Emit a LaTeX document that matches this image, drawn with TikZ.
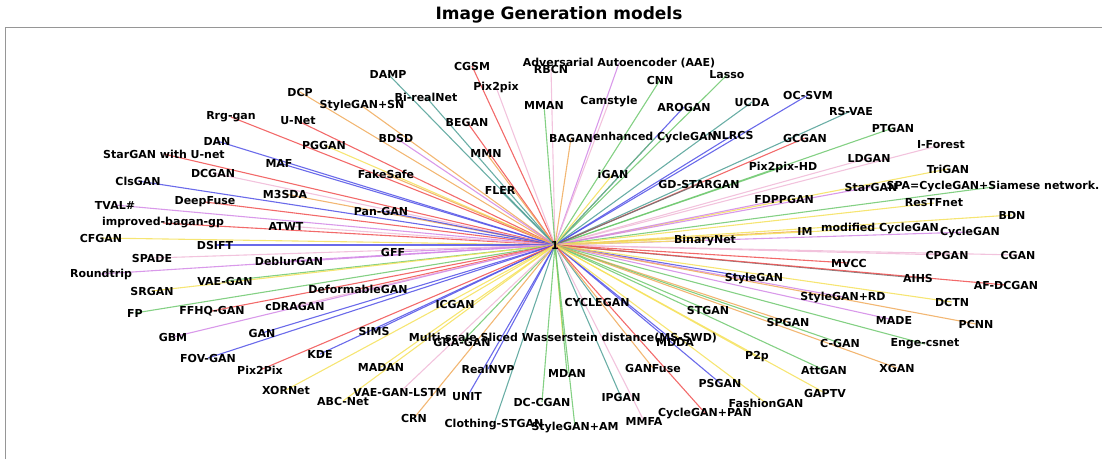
\documentclass[tikz,border=0pt]{standalone}
\usepackage{fontspec}
\setmainfont{DejaVu Sans}
\pgfdeclarelayer{bg}
\pgfsetlayers{bg,main}
\definecolor{cred}{RGB}{240,80,80}
\definecolor{cblue}{RGB}{80,80,230}
\definecolor{cgreen}{RGB}{110,200,110}
\definecolor{cyellow}{RGB}{245,225,90}
\definecolor{cpink}{RGB}{240,185,215}
\definecolor{corange}{RGB}{240,170,90}
\definecolor{cteal}{RGB}{80,160,150}
\definecolor{cviolet}{RGB}{210,135,230}
\definecolor{cgrey}{RGB}{110,110,110}
\definecolor{frame}{RGB}{150,150,150}
\tikzset{
  lab/.style={inner sep=0pt, font=\fontsize{11}{13}\selectfont\bfseries, text=black},
  spoke/.style={line width=1.1pt, draw opacity=0.85},
  titlestyle/.style={inner sep=0pt, font=\fontsize{17}{20}\selectfont\bfseries},
}
\begin{document}
\begin{tikzpicture}[x=1pt,y=-1pt]
\useasboundingbox (0,0) rectangle (1102,459);
\draw[frame, line width=1pt] (5,459) -- (5,27) -- (1102,27);
\node[titlestyle] (title) at (559,15) {Image Generation models};
\node[lab] (c) at (555,245) {1};
\foreach \x/\y/\t/\c [count=\i] in {
619/63/{Adversarial Autoencoder (AAE)}/cviolet,
551/69/{RBCN}/cpink,
472/66/{CGSM}/cred,
388/74/{DAMP}/cteal,
496/87/{Pix2pix}/cpink,
660/80/{CNN}/cgreen,
727/75/{Lasso}/cgreen,
426/97/{Bi-realNet}/cteal,
300/92/{DCP}/corange,
362/106/{StyleGAN+SN}/corange,
544/105/{MMAN}/cgreen,
609/102/{Camstyle}/cpink,
684/107/{AROGAN}/cblue,
752/102/{UCDA}/cteal,
808/95/{OC-SVM}/cblue,
851/111/{RS-VAE}/cteal,
231/117/{Rrg-gan}/cred,
298/121/{U-Net}/cred,
467/122/{BEGAN}/cred,
396/138/{BDSD}/cviolet,
324/145/{PGGAN}/cyellow,
571/138/{BAGAN}/corange,
655/138/{enhanced CycleGAN}/cgreen,
733/135/{NLRCS}/cblue,
805/138/{GCGAN}/cred,
893/128/{PTGAN}/cgreen,
217/141/{DAN}/cblue,
486/153/{MMN}/corange,
164/154/{StarGAN with U-net}/cred,
279/163/{MAF}/cblue,
386/174/{FakeSafe}/corange,
869/158/{LDGAN}/cpink,
941/145/{I-Forest}/cpink,
783/167/{Pix2pix-HD}/cgreen,
613/174/{iGAN}/cyellow,
500/190/{FLER}/cteal,
699/184/{GD-STARGAN}/cgrey,
948/169/{TriGAN}/cyellow,
138/181/{ClsGAN}/cblue,
213/173/{DCGAN}/cpink,
285/194/{M3SDA}/corange,
871/187/{StarGAN}/cviolet,
993/187/{SPA=CycleGAN+Siamese network.}/cgreen,
784/199/{FDPPGAN}/cviolet,
934/203/{ResTFnet}/cyellow,
205/202/{DeepFuse}/cred,
115/205/{TVAL\#}/cviolet,
381/211/{Pan-GAN}/cblue,
1012/215/{BDN}/cyellow,
163/223/{improved-bagan-gp}/cred,
286/226/{ATWT}/cpink,
805/231/{IM}/corange,
880/228/{modified CycleGAN}/cyellow,
970/232/{CycleGAN}/cviolet,
705/240/{BinaryNet}/cyellow,
101/238/{CFGAN}/cyellow,
215/245/{DSIFT}/cblue,
393/252/{GFF}/cviolet,
947/255/{CPGAN}/cpink,
1018/255/{CGAN}/cpink,
152/258/{SPADE}/cpink,
289/261/{DeblurGAN}/cviolet,
849/263/{MVCC}/cred,
101/274/{Roundtrip}/cviolet,
225/281/{VAE-GAN}/cgreen,
918/278/{AIHS}/cgrey,
1006/285/{AF-DCGAN}/cred,
754/278/{StyleGAN}/cblue,
152/291/{SRGAN}/cyellow,
358/289/{DeformableGAN}/cred,
843/297/{StyleGAN+RD}/cviolet,
952/302/{DCTN}/cyellow,
135/313/{FP}/cgreen,
212/311/{FFHQ-GAN}/cred,
295/306/{cDRAGAN}/cpink,
455/304/{ICGAN}/cyellow,
597/302/{CYCLEGAN}/cteal,
708/310/{STGAN}/cgreen,
788/322/{SPGAN}/corange,
894/320/{MADE}/cviolet,
976/324/{PCNN}/corange,
173/337/{GBM}/cviolet,
262/333/{GAN}/cblue,
374/331/{SIMS}/cblue,
563/338/{Multi-scale Sliced Wasserstein distance(MS-SWD)}/cyellow,
462/342/{GRA-GAN}/cgreen,
675/342/{MDDA}/cblue,
840/343/{C-GAN}/cgreen,
925/344/{Enge-csnet}/cgreen,
208/358/{FOV-GAN}/cblue,
320/354/{KDE}/cblue,
381/367/{MADAN}/cyellow,
757/357/{P2p}/cyellow,
260/370/{Pix2Pix}/cred,
488/369/{RealNVP}/cblue,
567/373/{MDAN}/cgreen,
653/368/{GANFuse}/corange,
824/370/{AttGAN}/cgreen,
897/368/{XGAN}/corange,
286/390/{XORNet}/cyellow,
400/392/{VAE-GAN-LSTM}/cpink,
467/397/{UNIT}/cblue,
542/402/{DC-CGAN}/cgreen,
621/397/{IPGAN}/cteal,
720/383/{PSGAN}/cblue,
343/401/{ABC-Net}/cyellow,
825/393/{GAPTV}/cyellow,
766/403/{FashionGAN}/cyellow,
705/413/{CycleGAN+PAN}/cred,
414/418/{CRN}/corange,
494/424/{Clothing-STGAN}/cteal,
575/427/{StyleGAN+AM}/cgreen,
644/421/{MMFA}/cpink}
{
  \node[lab] (n\i) at (\x,\y) {\t};
  \begin{pgfonlayer}{bg}
    \draw[spoke,draw=\c] (c.center) -- (n\i.center);
  \end{pgfonlayer}
}
\end{tikzpicture}
\end{document}
